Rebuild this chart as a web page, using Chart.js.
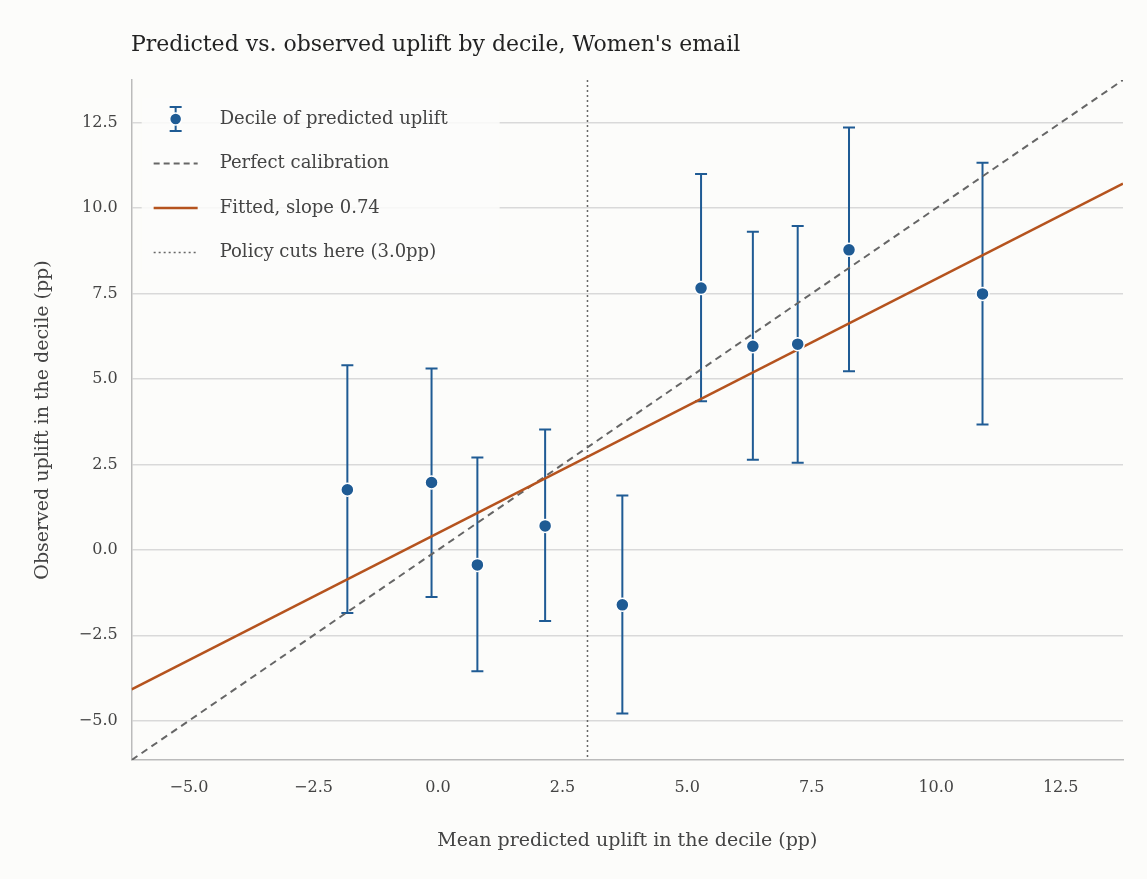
<!DOCTYPE html>
<html><head><meta charset="utf-8">
<script src="https://cdn.jsdelivr.net/npm/chart.js@4/dist/chart.umd.min.js"></script>
<style>html,body{margin:0;background:#fcfcfa;}#wrap{width:1147px;height:879px;}</style>
</head><body><div id="wrap"><canvas id="c"></canvas></div>
<script>
// decile points
var predX = [-1.82, -0.13, 0.79, 2.15, 3.70, 5.28, 6.32, 7.22, 8.25, 10.93];
var obsY  = [1.76, 1.97, -0.44, 0.70, -1.61, 7.66, 5.96, 6.02, 8.78, 7.49];
var errLo = [-1.85, -1.38, -3.55, -2.08, -4.79, 4.35, 2.64, 2.55, 5.23, 3.67];
var errHi = [5.40, 5.31, 2.70, 3.52, 1.59, 11.00, 9.31, 9.48, 12.36, 11.33];
var tickVals = [-5, -2.5, 0, 2.5, 5, 7.5, 10, 12.5];
var axisMin = -6.15, axisMax = 13.75;
var fitSlope = 0.744, fitIntercept = 0.49;
var policyCut = 3.0;

var blue = '#1f5b94', orange = '#b5531e', grey = '#666666';
var font = "'DejaVu Serif', serif";

var pts = predX.map(function(x, i){ return {x: x, y: obsY[i]}; });

function fmt(v){ return v.toFixed(1).replace('-', '\u2212'); }
function setTicks(scale){
  scale.ticks = tickVals.map(function(v){ return {value: v}; });
}

var extras = {
  id: 'extras',
  beforeDatasetsDraw: function(chart){
    var ctx = chart.ctx, xs = chart.scales.x, ys = chart.scales.y, a = chart.chartArea;
    ctx.save();
    // policy cut
    ctx.strokeStyle = grey; ctx.lineWidth = 1.5; ctx.setLineDash([2, 3]);
    var px = xs.getPixelForValue(policyCut);
    ctx.beginPath(); ctx.moveTo(px, a.top); ctx.lineTo(px, a.bottom); ctx.stroke();
    ctx.setLineDash([]);
    // error bars
    ctx.strokeStyle = blue; ctx.lineWidth = 2;
    for (var i = 0; i < predX.length; i++) {
      var x = xs.getPixelForValue(predX[i]);
      var y1 = ys.getPixelForValue(errLo[i]), y2 = ys.getPixelForValue(errHi[i]);
      ctx.beginPath();
      ctx.moveTo(x, y1); ctx.lineTo(x, y2);
      ctx.moveTo(x-6, y1); ctx.lineTo(x+6, y1);
      ctx.moveTo(x-6, y2); ctx.lineTo(x+6, y2);
      ctx.stroke();
    }
    ctx.restore();
  },
  afterDraw: function(chart){
    var ctx = chart.ctx, a = chart.chartArea;
    ctx.save();
    // title
    ctx.fillStyle = '#222'; ctx.font = "22px " + font; ctx.textBaseline = 'middle';
    ctx.fillText("Predicted vs. observed uplift by decile, Women's email", 131, 45);
    // legend
    ctx.fillStyle = 'rgba(252,252,250,0.85)';
    ctx.fillRect(a.left + 10, a.top + 18, 358, 176);
    var rows = ['Decile of predicted uplift', 'Perfect calibration', 'Fitted, slope 0.74', 'Policy cuts here (3.0pp)'];
    ctx.font = "18px " + font; ctx.textBaseline = 'middle';
    for (var i = 0; i < rows.length; i++) {
      var y = a.top + 39 + i*44.5, x0 = a.left + 22;
      if (i === 0) {
        ctx.strokeStyle = blue; ctx.lineWidth = 2;
        ctx.beginPath(); ctx.moveTo(x0+22, y-12); ctx.lineTo(x0+22, y+12);
        ctx.moveTo(x0+16, y-12); ctx.lineTo(x0+28, y-12);
        ctx.moveTo(x0+16, y+12); ctx.lineTo(x0+28, y+12); ctx.stroke();
        ctx.fillStyle = blue; ctx.strokeStyle = '#fff'; ctx.lineWidth = 1.5;
        ctx.beginPath(); ctx.arc(x0+22, y, 6, 0, Math.PI*2); ctx.fill(); ctx.stroke();
      } else {
        ctx.lineWidth = i === 1 ? 2 : (i === 2 ? 2.5 : 1.5);
        ctx.strokeStyle = i === 2 ? orange : grey;
        ctx.setLineDash(i === 1 ? [6, 4] : (i === 3 ? [2, 3] : []));
        ctx.beginPath(); ctx.moveTo(x0, y); ctx.lineTo(x0+44, y); ctx.stroke();
        ctx.setLineDash([]);
      }
      ctx.fillStyle = '#444';
      ctx.fillText(rows[i], x0 + 66, y);
    }
    ctx.restore();
  }
};

new Chart(document.getElementById('c'), {
  type: 'scatter',
  data: { datasets: [
    { label: 'Perfect calibration', type: 'line', data: [{x: axisMin, y: axisMin}, {x: axisMax, y: axisMax}],
      borderColor: grey, borderWidth: 2, borderDash: [7, 5], pointRadius: 0, order: 3 },
    { label: 'Fitted', type: 'line',
      data: [{x: axisMin, y: fitIntercept + fitSlope*axisMin}, {x: axisMax, y: fitIntercept + fitSlope*axisMax}],
      borderColor: orange, borderWidth: 2.5, pointRadius: 0, order: 2 },
    { label: 'Decile', data: pts, backgroundColor: blue, borderColor: '#ffffff', borderWidth: 1.5,
      pointRadius: 6.5, order: 1 }
  ]},
  options: {
    responsive: true, maintainAspectRatio: false, animation: false,
    layout: { padding: { top: 80, right: 24, left: 28, bottom: 23 } },
    plugins: { legend: { display: false }, tooltip: { enabled: false } },
    scales: {
      x: { type: 'linear', min: axisMin, max: axisMax,
        afterBuildTicks: setTicks,
        grid: { display: false }, border: { color: '#bbb', width: 1.5 },
        ticks: { color: '#444', font: { family: font, size: 16 }, padding: 10, callback: fmt },
        title: { display: true, text: 'Mean predicted uplift in the decile (pp)', color: '#444',
          font: { family: font, size: 19 }, padding: { top: 22 } } },
      y: { type: 'linear', min: axisMin, max: axisMax,
        afterBuildTicks: setTicks,
        grid: { color: '#d9d9d9', lineWidth: 1.5, drawTicks: false }, border: { color: '#bbb', width: 1.5 },
        ticks: { color: '#444', font: { family: font, size: 16 }, padding: 14, callback: fmt },
        title: { display: true, text: 'Observed uplift in the decile (pp)', color: '#444',
          font: { family: font, size: 19 }, padding: { bottom: 10 } } }
    }
  },
  plugins: [extras]
});
</script></body></html>
